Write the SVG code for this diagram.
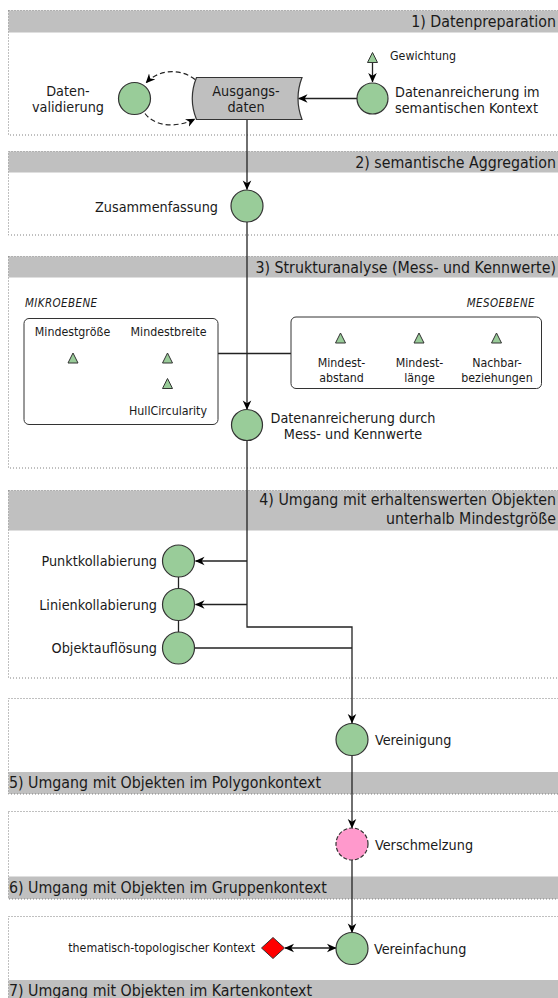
<svg xmlns="http://www.w3.org/2000/svg" width="558" height="998" viewBox="0 0 558 998">
  <style>
    text { font-family: "DejaVu Sans Condensed", "DejaVu Sans", sans-serif; font-stretch: condensed; fill: #1a1a1a; }
    .hdr { font-size: 15.8px; }
    .lbl { font-size: 14.3px; }
    .sm { font-size: 12.3px; }
    .lvl { font-size: 11.5px; font-style: italic; letter-spacing: 0.4px; }
    .mid { text-anchor: middle; }
    .end { text-anchor: end; }
    .frame { fill: none; stroke: #808080; stroke-width: 1; stroke-dasharray: 1 2; }
    .band { fill: #c0c0c0; }
    .step { fill: #99cc99; stroke: #333; stroke-width: 1.2; }
    .tri { fill: #99cc99; stroke: #333; stroke-width: 1; }
    .box { fill: #fff; stroke: #333; stroke-width: 1; }
    .edge { fill: none; stroke: #222; stroke-width: 1.3; }
    .dash { fill: none; stroke: #222; stroke-width: 1.2; stroke-dasharray: 5 3; }
  </style>
  <defs>
    <marker id="arr" viewBox="0 0 10 10" refX="9.5" refY="5" markerWidth="9.5" markerHeight="9.5" orient="auto-start-reverse" markerUnits="userSpaceOnUse">
      <path d="M0,0.5 L10,5 L0,9.5 L3,5 z" fill="#000"/>
    </marker>
  </defs>

  <!-- section frames and header bands -->
  <g id="sections">
    <rect class="band" x="8.5" y="10.5" width="560" height="22"/>
    <rect class="frame" x="8.5" y="10.5" width="560" height="124.5"/>
    <text class="hdr end" x="556" y="26.5">1) Datenpreparation</text>

    <rect class="band" x="8.5" y="151.5" width="560" height="21"/>
    <rect class="frame" x="8.5" y="151.5" width="560" height="83.5"/>
    <text class="hdr end" x="556" y="167.5">2) semantische Aggregation</text>

    <rect class="band" x="8.5" y="256.5" width="560" height="21"/>
    <rect class="frame" x="8.5" y="256.5" width="560" height="211.5"/>
    <text class="hdr end" x="556" y="272.5">3) Strukturanalyse (Mess- und Kennwerte)</text>

    <rect class="band" x="8.5" y="490.5" width="560" height="40"/>
    <rect class="frame" x="8.5" y="490.5" width="560" height="187.5"/>
    <text class="hdr end" x="556" y="504.5">4) Umgang mit erhaltenswerten Objekten</text>
    <text class="hdr end" x="556" y="523.5">unterhalb Mindestgröße</text>

    <rect class="band" x="8.5" y="772" width="560" height="22"/>
    <rect class="frame" x="8.5" y="698.5" width="560" height="95.5"/>
    <text class="hdr" x="9" y="788">5) Umgang mit Objekten im Polygonkontext</text>

    <rect class="band" x="8.5" y="876.5" width="560" height="22.5"/>
    <rect class="frame" x="8.5" y="811.5" width="560" height="87.5"/>
    <text class="hdr" x="9" y="892.5">6) Umgang mit Objekten im Gruppenkontext</text>

    <rect class="band" x="8.5" y="980" width="560" height="30"/>
    <rect class="frame" x="8.5" y="916.5" width="560" height="100"/>
    <text class="hdr" x="9" y="995.5">7) Umgang mit Objekten im Kartenkontext</text>
  </g>

  <!-- connectors -->
  <g id="connectors">
    <path class="edge" d="M372.5,63 V82" marker-end="url(#arr)"/>
    <path class="edge" d="M357,98.5 H298.5" marker-end="url(#arr)"/>
    <path class="dash" d="M195,79.5 C182,69 160,68 146,83" marker-end="url(#arr)"/>
    <path class="dash" d="M145,113.5 C155,127 177,128 195,119" marker-end="url(#arr)"/>
    <path class="edge" d="M247,119.5 V189.5" marker-end="url(#arr)"/>
    <path class="edge" d="M247,222 V409.5" marker-end="url(#arr)"/>
    <path class="edge" d="M218,353.5 H291"/>
    <path class="edge" d="M247,440.5 V627 H352 V723" marker-end="url(#arr)"/>
    <path class="edge" d="M247,561 H195.5" marker-end="url(#arr)"/>
    <path class="edge" d="M247,604.5 H195.5" marker-end="url(#arr)"/>
    <path class="edge" d="M195,648 H352"/>
    <path class="edge" d="M178.5,577 V588.5 M178.5,620.5 V632"/>
    <path class="edge" d="M352,755.5 V828" marker-end="url(#arr)"/>
    <path class="edge" d="M352,860 V932.5" marker-end="url(#arr)"/>
    <path class="edge" d="M285,948 H336" marker-start="url(#arr)" marker-end="url(#arr)"/>
  </g>

  <!-- 1) data preparation -->
  <g id="datenvalidierung">
    <circle class="step" cx="134.5" cy="98.5" r="16"/>
    <text class="lbl mid" x="68" y="96">Daten-</text>
    <text class="lbl mid" x="68" y="112">validierung</text>
  </g>
  <g id="ausgangsdaten">
    <path d="M196.5,77.5 H302 Q294,98.5 302,119.5 H196.5 Q188,98.5 196.5,77.5 Z" fill="#bfbfbf" stroke="#333" stroke-width="1.2"/>
    <text class="lbl mid" x="246" y="96">Ausgangs-</text>
    <text class="lbl mid" x="246" y="111.5">daten</text>
  </g>
  <g id="gewichtung">
    <polygon class="tri" points="372.5,52.5 377.5,62.5 367.5,62.5"/>
    <text class="sm" x="390" y="60">Gewichtung</text>
  </g>
  <g id="datenanreicherung-semantisch">
    <circle class="step" cx="372.5" cy="98.5" r="15.5"/>
    <text class="lbl" x="395" y="97">Datenanreicherung im</text>
    <text class="lbl" x="395" y="113">semantischen Kontext</text>
  </g>

  <!-- 2) semantic aggregation -->
  <g id="zusammenfassung">
    <circle class="step" cx="247" cy="206" r="16"/>
    <text class="lbl end" x="218" y="211.5">Zusammenfassung</text>
  </g>

  <!-- 3) structure analysis -->
  <g id="mikroebene">
    <text class="lvl" x="25" y="307">MIKROEBENE</text>
    <rect class="box" x="24" y="318.5" width="194" height="106" rx="5"/>
    <text class="sm mid" x="72.5" y="336">Mindestgröße</text>
    <polygon class="tri" points="73,353 78,363 68,363"/>
    <text class="sm mid" x="168.5" y="336">Mindestbreite</text>
    <polygon class="tri" points="167.5,353 172.5,363 162.5,363"/>
    <polygon class="tri" points="167.5,378.5 172.5,388.5 162.5,388.5"/>
    <text class="sm mid" x="168" y="415">HullCircularity</text>
  </g>
  <g id="mesoebene">
    <text class="lvl end" x="535" y="307">MESOEBENE</text>
    <rect class="box" x="291" y="317" width="250.5" height="71.5" rx="5"/>
    <polygon class="tri" points="340.5,333 345.5,343 335.5,343"/>
    <polygon class="tri" points="419,333 424,343 414,343"/>
    <polygon class="tri" points="496.5,333 501.5,343 491.5,343"/>
    <text class="sm mid" x="341.5" y="367">Mindest-</text>
    <text class="sm mid" x="341.5" y="381.5">abstand</text>
    <text class="sm mid" x="419.5" y="367">Mindest-</text>
    <text class="sm mid" x="419.5" y="381.5">länge</text>
    <text class="sm mid" x="497" y="367">Nachbar-</text>
    <text class="sm mid" x="497" y="381.5">beziehungen</text>
  </g>
  <g id="datenanreicherung-messwerte">
    <circle class="step" cx="247" cy="425" r="15.5"/>
    <text class="lbl mid" x="353" y="423">Datenanreicherung durch</text>
    <text class="lbl mid" x="353" y="439">Mess- und Kennwerte</text>
  </g>

  <!-- 4) objects below minimum size -->
  <g id="punktkollabierung">
    <circle class="step" cx="178.5" cy="561" r="16"/>
    <text class="lbl end" x="157" y="566">Punktkollabierung</text>
  </g>
  <g id="linienkollabierung">
    <circle class="step" cx="178.5" cy="604.5" r="16"/>
    <text class="lbl end" x="157" y="609.5">Linienkollabierung</text>
  </g>
  <g id="objektaufloesung">
    <circle class="step" cx="178.5" cy="648" r="16"/>
    <text class="lbl end" x="157" y="653">Objektauflösung</text>
  </g>

  <!-- 5) polygon context -->
  <g id="vereinigung">
    <circle class="step" cx="352" cy="739.5" r="16"/>
    <text class="lbl" x="375" y="745">Vereinigung</text>
  </g>

  <!-- 6) group context -->
  <g id="verschmelzung">
    <circle cx="352" cy="844" r="16" fill="#ff99cc" stroke="#333" stroke-width="1.2" stroke-dasharray="4 2"/>
    <text class="lbl" x="375" y="849.5">Verschmelzung</text>
  </g>

  <!-- 7) map context -->
  <g id="kontext">
    <polygon points="273,937.5 284.5,948 273,958.5 261.5,948" fill="#ff0000" stroke="#333" stroke-width="1"/>
    <text class="sm end" x="255" y="952">thematisch-topologischer Kontext</text>
  </g>
  <g id="vereinfachung">
    <circle class="step" cx="352" cy="948.5" r="16"/>
    <text class="lbl" x="374" y="953.5">Vereinfachung</text>
  </g>
</svg>
